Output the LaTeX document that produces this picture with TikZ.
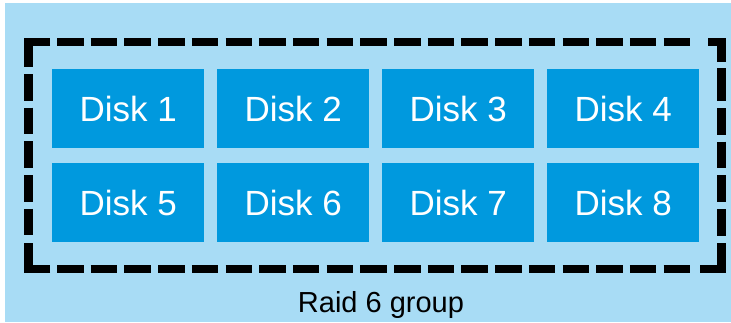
\documentclass[tikz,border=0pt]{standalone}
\usepackage{fontspec}
\setmainfont{Liberation Sans}
\definecolor{panelblue}{RGB}{168,220,245}
\definecolor{diskblue}{RGB}{0,153,222}
\begin{document}
\begin{tikzpicture}[x=1pt,y=-1pt,
  disk/.style={fill=diskblue, draw=none, minimum width=152pt, minimum height=79pt,
    inner sep=0pt, anchor=north west, text=white, font=\fontsize{35}{40}\selectfont},
  frameline/.style={draw=black, line width=8.5pt, line join=miter},
  framedash/.style={frameline, dash pattern=on 26.5pt off 7.2pt}]
  \useasboundingbox (0,0) rectangle (731,322);
  \fill[white] (0,0) rectangle (731,322);
  \fill[panelblue] (5,3) rectangle (731,322);
  % disks, two rows of four
  \node[disk] (d1) at (52,69) {Disk 1};
  \node[disk] (d2) at (217,69) {Disk 2};
  \node[disk] (d3) at (382,69) {Disk 3};
  \node[disk] (d4) at (547,69) {Disk 4};
  \node[disk] (d5) at (52,163) {Disk 5};
  \node[disk] (d6) at (217,163) {Disk 6};
  \node[disk] (d7) at (382,163) {Disk 7};
  \node[disk] (d8) at (547,163) {Disk 8};
  % dashed group outline: solid corner pieces
  \draw[frameline] (50,42) -- (28.5,42) -- (28.5,67);
  \draw[frameline] (708,42) -- (721.5,42) -- (721.5,62);
  \draw[frameline] (50,269) -- (28.5,269) -- (28.5,243);
  \draw[frameline] (700,269) -- (721.5,269) -- (721.5,243);
  % dashed sides
  \draw[framedash] (57,42) -- (694,42);
  \draw[framedash] (57,269) -- (694,269);
  \draw[framedash] (28.5,74) -- (28.5,236);
  \draw[frameline] (721.5,68) -- (721.5,101);
  \draw[framedash] (721.5,108) -- (721.5,236);
  \node[font=\fontsize{29}{33}\selectfont, anchor=base] (lbl) at (381,312) {Raid 6 group};
\end{tikzpicture}
\end{document}
